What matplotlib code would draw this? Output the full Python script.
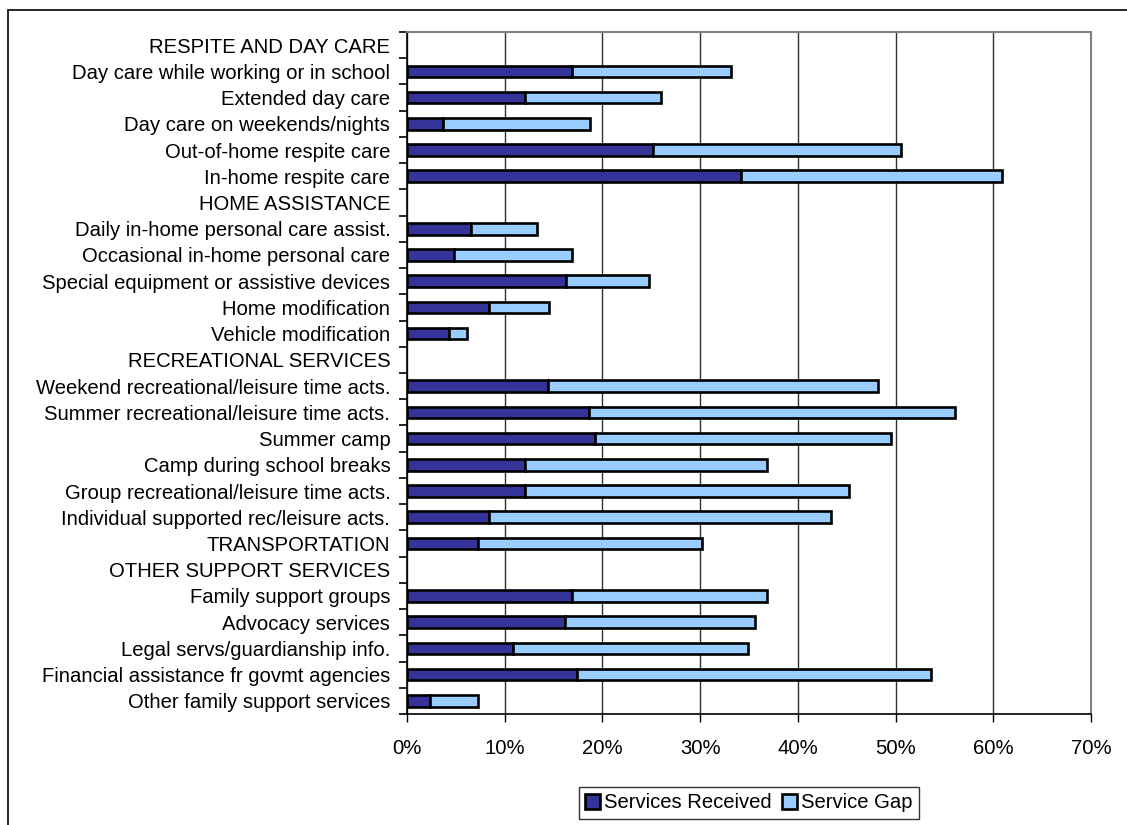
import matplotlib
matplotlib.use("Agg")
import matplotlib.pyplot as plt
from matplotlib.patches import Rectangle
from matplotlib.ticker import FuncFormatter, FixedLocator
import numpy as np

plt.rcParams['font.family'] = ['Liberation Sans', 'DejaVu Sans']

categories = [
    "RESPITE AND DAY CARE",
    "Day care while working or in school",
    "Extended day care",
    "Day care on weekends/nights",
    "Out-of-home respite care",
    "In-home respite care",
    "HOME ASSISTANCE",
    "Daily in-home personal care assist.",
    "Occasional in-home personal care",
    "Special equipment or assistive devices",
    "Home modification",
    "Vehicle modification",
    "RECREATIONAL SERVICES",
    "Weekend recreational/leisure time acts.",
    "Summer recreational/leisure time acts.",
    "Summer camp",
    "Camp during school breaks",
    "Group recreational/leisure time acts.",
    "Individual supported rec/leisure acts.",
    "TRANSPORTATION",
    "OTHER SUPPORT SERVICES",
    "Family support groups",
    "Advocacy services",
    "Legal servs/guardianship info.",
    "Financial assistance fr govmt agencies",
    "Other family support services",
]

# percent of families
services_received = [
    0, 16.9, 12.1, 3.7, 25.2, 34.2,
    0, 6.6, 4.8, 16.3, 8.4, 4.3,
    0, 14.4, 18.6, 19.2, 12.1, 12.1, 8.4,
    7.3,
    0, 16.9, 16.2, 10.8, 17.4, 2.4,
]
service_gap = [
    0, 16.3, 13.9, 15.0, 25.4, 26.7,
    0, 6.7, 12.1, 8.5, 6.1, 1.8,
    0, 33.8, 37.5, 30.3, 24.7, 33.1, 35.0,
    22.9,
    0, 19.9, 19.4, 24.1, 36.2, 4.9,
]
series_names = ["Services Received", "Service Gap"]
x_ticks = [0, 10, 20, 30, 40, 50, 60, 70]

W, H = 1127, 825
fig = plt.figure(figsize=(W / 100, H / 100), dpi=100)
fig.patch.set_facecolor("white")

ax = fig.add_axes([407 / W, 1 - 714 / H, (1091 - 407) / W, (714 - 32) / H])

y = np.arange(len(categories))
recv = np.array(services_received, dtype=float)
gap = np.array(service_gap, dtype=float)
# section heading rows carry no values, so they get no bar
has_bar = (recv + gap) > 0

bar_h = 0.44
dark = "#333399"
light = "#99CCFF"

b1 = ax.barh(y[has_bar], recv[has_bar], height=bar_h, color=dark,
             edgecolor="black", linewidth=1.9, label=series_names[0], zorder=3)
b2 = ax.barh(y[has_bar], gap[has_bar], left=recv[has_bar], height=bar_h, color=light,
             edgecolor="black", linewidth=1.9, label=series_names[1], zorder=3)

ax.set_xlim(0, 70)
ax.set_ylim(len(categories) - 0.5, -0.5)

ax.xaxis.set_major_locator(FixedLocator(x_ticks))
ax.xaxis.set_major_formatter(FuncFormatter(lambda v, p: f"{v:.0f}%"))
ax.grid(axis="x", color="#303030", linewidth=1.0, zorder=1)
ax.set_axisbelow(True)

ax.set_yticks(y)
ax.set_yticklabels(categories)
ax.set_yticks(np.arange(-0.5, len(categories) + 0.5, 1), minor=True)
ax.tick_params(axis="y", which="major", length=0, pad=12, labelsize=14.6)
ax.tick_params(axis="y", which="minor", length=6, width=1.2, color="black", direction="out")
ax.tick_params(axis="x", which="major", length=6, width=1.0, color="black",
               direction="out", pad=12, labelsize=14.6)

for side in ["top", "right"]:
    ax.spines[side].set_color("#808080")
    ax.spines[side].set_linewidth(1.5)
for side in ["left", "bottom"]:
    ax.spines[side].set_color("black")
    ax.spines[side].set_linewidth(1.2)

leg = fig.legend(handles=[b1, b2], labels=series_names, loc="center",
                 bbox_to_anchor=(749 / W, 1 - 803 / H), ncol=2, fontsize=14.6,
                 frameon=True, fancybox=False, handlelength=0.75, handleheight=0.75,
                 handletextpad=0.2, columnspacing=0.5, borderpad=0.3,
                 borderaxespad=0)
leg.get_frame().set_edgecolor("black")
leg.get_frame().set_linewidth(1.0)

# chart frame
fig.patches.append(Rectangle((8 / W, -0.1), 1.2, 1 - 10 / H + 0.1,
                             transform=fig.transFigure, fill=False,
                             edgecolor="black", linewidth=1.2, clip_on=False))

fig.savefig("out.png", dpi=100, facecolor="white")
